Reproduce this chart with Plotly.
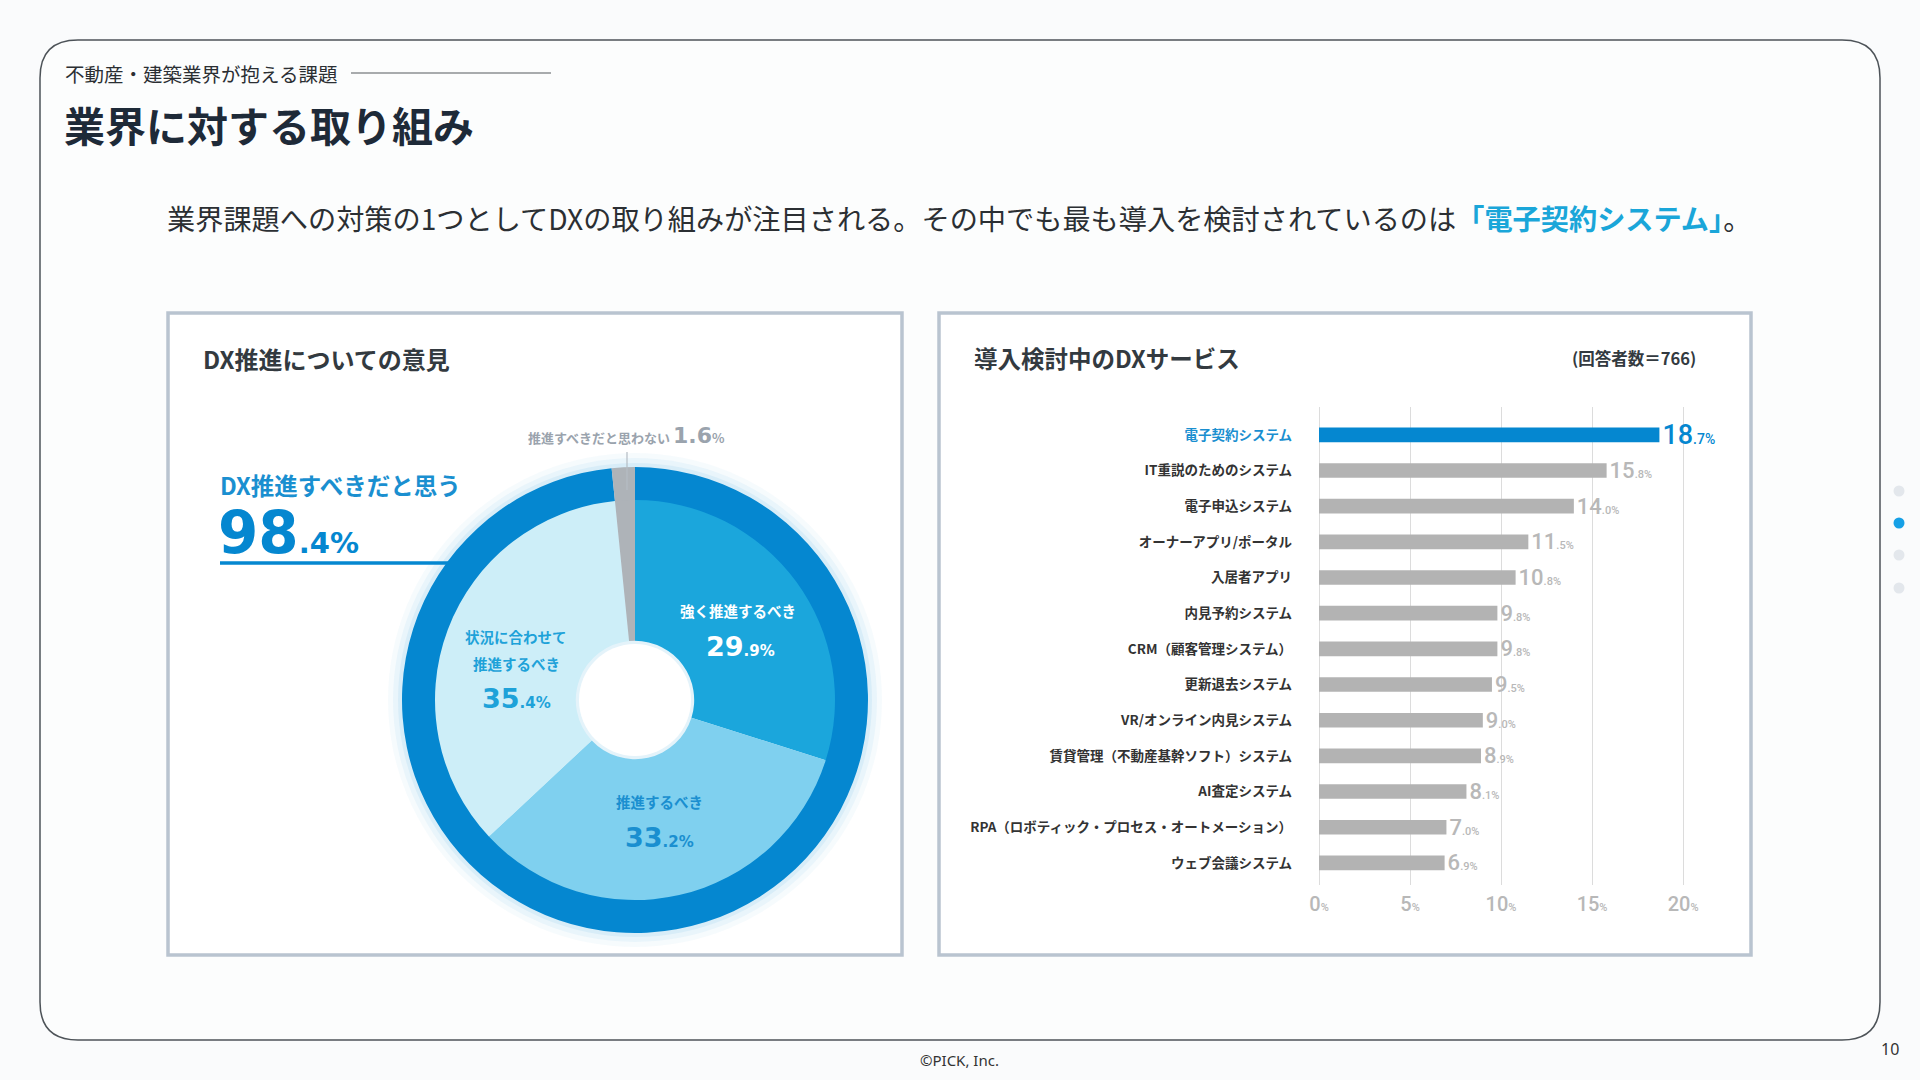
import plotly.graph_objects as go

W, H = 1920, 1080
JP = "Noto Sans CJK JP, Noto Sans, sans-serif"
NUM = "Roboto, Noto Sans, sans-serif"
BIG = "DejaVu Sans, Noto Sans, sans-serif"

# ---------------- data ----------------
pie_labels = ["強く推進するべき", "推進するべき", "状況に合わせて|推進するべき", "推進すべきだと思わない"]
pie_values = [29.9, 33.2, 35.4, 1.6]
pie_colors = ["#1ba6dc", "#7fd0ef", "#cdeef8", "#aeb3b8"]

ring_labels = ["DX推進すべきだと思う", "推進すべきだと思わない"]
ring_values = [98.4, 1.6]
ring_colors = ["#0587d0", "#aeb3b8"]

bar_categories = [
    "電子契約システム", "IT重説のためのシステム", "電子申込システム", "オーナーアプリ/ポータル",
    "入居者アプリ", "内見予約システム", "CRM（顧客管理システム）", "更新退去システム",
    "VR/オンライン内見システム", "賃貸管理（不動産基幹ソフト）システム", "AI査定システム",
    "RPA（ロボティック・プロセス・オートメーション）", "ウェブ会議システム",
]
bar_values = [18.7, 15.8, 14.0, 11.5, 10.8, 9.8, 9.8, 9.5, 9.0, 8.9, 8.1, 7.0, 6.9]
x_ticks = [0, 5, 10, 15, 20]
respondents = 766


def px(x, y):
    return x / W, 1 - y / H


def split_num(v):
    a, b = f"{v:.1f}".split(".")
    return a, b


fig = go.Figure()

# ---------------- donut ----------------
cx, cy = 635, 700
r_out, r_in = 233, 199


def dom(r):
    return dict(x=[(cx - r) / W, (cx + r) / W], y=[1 - (cy + r) / H, 1 - (cy - r) / H])


fig.add_trace(go.Pie(
    labels=ring_labels, values=ring_values, marker=dict(colors=ring_colors, line=dict(width=0)),
    hole=r_in / r_out, sort=False, direction="clockwise", rotation=0,
    textinfo="none", hoverinfo="skip", showlegend=False, domain=dom(r_out)))
fig.add_trace(go.Pie(
    labels=[l.replace("|", "") for l in pie_labels], values=pie_values,
    marker=dict(colors=pie_colors, line=dict(width=0)),
    hole=0.296, sort=False, direction="clockwise", rotation=0,
    textinfo="none", hoverinfo="skip", showlegend=False, domain=dom(r_in + 1)))

# ---------------- bars ----------------
bar_colors = ["#0587d0"] + ["#b3b3b3"] * (len(bar_values) - 1)
txt_colors = ["#0587d0"] + ["#b8b8b8"] * (len(bar_values) - 1)
txt_sizes = [27] + [22] * (len(bar_values) - 1)
bar_text = []
for i, v in enumerate(bar_values):
    a, b = split_num(v)
    small = 14 if i == 0 else 11
    bar_text.append(f"{a}<span style='font-size:{small}px'>.{b}%</span>")

fig.add_trace(go.Bar(
    x=bar_values, y=bar_categories, orientation="h",
    marker=dict(color=bar_colors, line=dict(width=0)),
    text=bar_text, textposition="outside", cliponaxis=False, constraintext="none",
    textfont=dict(family=NUM, size=txt_sizes, color=txt_colors, weight=500),
    hoverinfo="skip", showlegend=False, xaxis="x", yaxis="y"))

ytext = [f"<span style='color:#1a8fd0'>{c}</span>" if i == 0 else c for i, c in enumerate(bar_categories)]
xtext = [f"{t}<span style='font-size:11px'>%</span>" for t in x_ticks]

n = len(bar_categories)
fig.update_layout(
    xaxis=dict(domain=[1319 / W, 1694 / W], range=[0, 20.6], tickvals=x_ticks, ticktext=xtext,
               showgrid=True, gridcolor="#dcdcdc", gridwidth=1, zeroline=True, zerolinecolor="#dcdcdc",
               zerolinewidth=1, showline=False, ticks="", fixedrange=True, ticklabelstandoff=5,
               tickfont=dict(family=NUM, size=20, color="#b8b8b8", weight=500)),
    yaxis=dict(domain=[(H - 885) / H, (H - 407) / H], categoryorder="array",
               categoryarray=bar_categories, range=[n - 1 + 0.62, -0.78], tickvals=bar_categories,
               ticktext=ytext, showgrid=False, zeroline=False, showline=False, ticks="",
               ticklabelstandoff=26, fixedrange=True, automargin=False,
               tickfont=dict(family=JP, size=13.5, color="#333333", weight=700)),
    bargap=0.59,
)

# ---------------- shapes ----------------
def rounded_path(x0, y0, x1, y1, rr):
    def P(x, y):
        a, b = px(x, y)
        return f"{a:.6f},{b:.6f}"
    return (f"M {P(x0 + rr, y0)} L {P(x1 - rr, y0)} Q {P(x1, y0)} {P(x1, y0 + rr)} L {P(x1, y1 - rr)} "
            f"Q {P(x1, y1)} {P(x1 - rr, y1)} L {P(x0 + rr, y1)} Q {P(x0, y1)} {P(x0, y1 - rr)} "
            f"L {P(x0, y0 + rr)} Q {P(x0, y0)} {P(x0 + rr, y0)} Z")


def rect(xa, ya, xb, yb, **kw):
    a, b = px(xa, ya)
    c, d = px(xb, yb)
    return dict(type="rect", xref="paper", yref="paper", x0=a, y0=d, x1=c, y1=b, **kw)


def line(xa, ya, xb, yb, color, width):
    a, b = px(xa, ya)
    c, d = px(xb, yb)
    return dict(type="line", xref="paper", yref="paper", x0=a, y0=b, x1=c, y1=d,
                line=dict(color=color, width=width))


def circle(x, y, r, **kw):
    d = rect(x - r, y - r, x + r, y + r, **kw)
    d["type"] = "circle"
    return d


shapes = [dict(type="path", path=rounded_path(40, 40, 1880, 1040, 38), xref="paper", yref="paper",
               layer="below", line=dict(color="#4d5358", width=1.5), fillcolor="#fcfdfd")]
shapes.append(rect(168, 313, 902, 955, layer="below", fillcolor="#ffffff",
                   line=dict(color="#b9c4d0", width=3.5)))
shapes.append(rect(939, 313, 1751, 955, layer="below", fillcolor="#ffffff",
                   line=dict(color="#b9c4d0", width=3.5)))
# glow around donut
for dr, op in [(14, 0.035), (9, 0.05), (4, 0.07)]:
    shapes.append(circle(cx, cy, r_out + dr, layer="below", fillcolor=f"rgba(5,135,208,{op})",
                         line=dict(width=0)))
# hole (white with soft inner shadow)
shapes.append(circle(cx, cy, 60, layer="below", fillcolor="#e4f3fa", line=dict(width=0)))
shapes.append(circle(cx, cy, 56, layer="below", fillcolor="#ffffff", line=dict(width=0)))
# subtitle line
shapes.append(line(351, 73, 551, 73, "#555a5e", 1.2))
# 98.4% underline
shapes.append(line(220, 563, 448, 563, "#0587d0", 3.5))
# pointer for 1.6%
shapes.append(line(627, 452, 627, 490, "#b5bcc4", 1.2))
# page dots
for i, yy in enumerate([491, 523, 555, 588]):
    shapes.append(circle(1899, yy, 5.5, fillcolor="#16a0e6" if i == 1 else "#e3e7ec", line=dict(width=0)))

fig.update_layout(shapes=shapes)

# ---------------- annotations ----------------
ann = []


def text(x, y, s, size, color, xanchor="left", weight=400, family=JP, yanchor="middle"):
    a, b = px(x, y)
    ann.append(dict(x=a, y=b, xref="paper", yref="paper", text=s, showarrow=False,
                    xanchor=xanchor, yanchor=yanchor, align="center" if xanchor == "center" else xanchor,
                    borderpad=0,
                    font=dict(family=family, size=size, color=color, weight=weight)))


text(64, 73, "不動産・建築業界が抱える課題", 19.5, "#2b2f33")
text(63, 124, "業界に対する取り組み", 41, "#1e2a38", weight=700)
text(166, 218, "業界課題への対策の1つとしてDXの取り組みが注目される。その中でも最も導入を検討されているのは"
     "<span style='color:#1aa6d9'><b>「電子契約システム」</b></span>。", 28.2, "#2b2f33")
text(202, 358, "DX推進についての意見", 24, "#333a40", weight=700)
text(973, 358, "導入検討中のDXサービス", 23.5, "#333a40", weight=700)
text(1697, 358, f"(回答者数＝{respondents})", 16.5, "#333a40", xanchor="right", weight=700)

# big share
a, b = split_num(ring_values[0])
text(219, 485, ring_labels[0], 23.5, "#1a8fd0", weight=700)
text(217, 568, f"{a}<span style='font-size:29px'>.{b}%</span>", 58, "#0587d0", weight=700,
     family=BIG, yanchor="bottom")

# slice labels
slice_pos = [((738, 610), (740, 646), "#ffffff"),
             ((659, 801), (659, 837), "#1a8fd0"),
             ((516, 636), (516, 698), "#1ea2d9")]
for i in range(3):
    (lx, ly), (nx, ny), col = slice_pos[i]
    parts = pie_labels[i].split("|")
    for k, p in enumerate(parts):
        text(lx, ly + 27 * k, p, 14.5, col, xanchor="center", weight=700)
    a, b = split_num(pie_values[i])
    text(nx, ny, f"{a}<span style='font-size:15px'>.{b}%</span>", 27, col, xanchor="center",
         weight=700, family=BIG)
a, b = split_num(pie_values[3])
text(626, 436, f"{pie_labels[3]} <span style='font-size:22px;font-family:DejaVu Sans'><b>{a}.{b}</b></span>"
     f"<span style='font-size:13px'>%</span>", 13, "#9aa3ad", xanchor="center", weight=700)

text(959, 1060, "©PICK, Inc.", 15, "#333333", xanchor="center", family="Noto Sans, sans-serif")
text(1890, 1049, "10", 16, "#333333", xanchor="center", family="Noto Sans, sans-serif")

fig.update_layout(
    annotations=ann,
    width=W, height=H, margin=dict(l=0, r=0, t=0, b=0, autoexpand=False),
    paper_bgcolor="#fafbfc", plot_bgcolor="rgba(0,0,0,0)",
    font=dict(family=JP),
)

fig.write_html("out.html", config={"displayModeBar": False},
               post_script="document.body.style.margin='0';document.body.style.padding='0';"
                           "document.documentElement.style.overflow='hidden';")
